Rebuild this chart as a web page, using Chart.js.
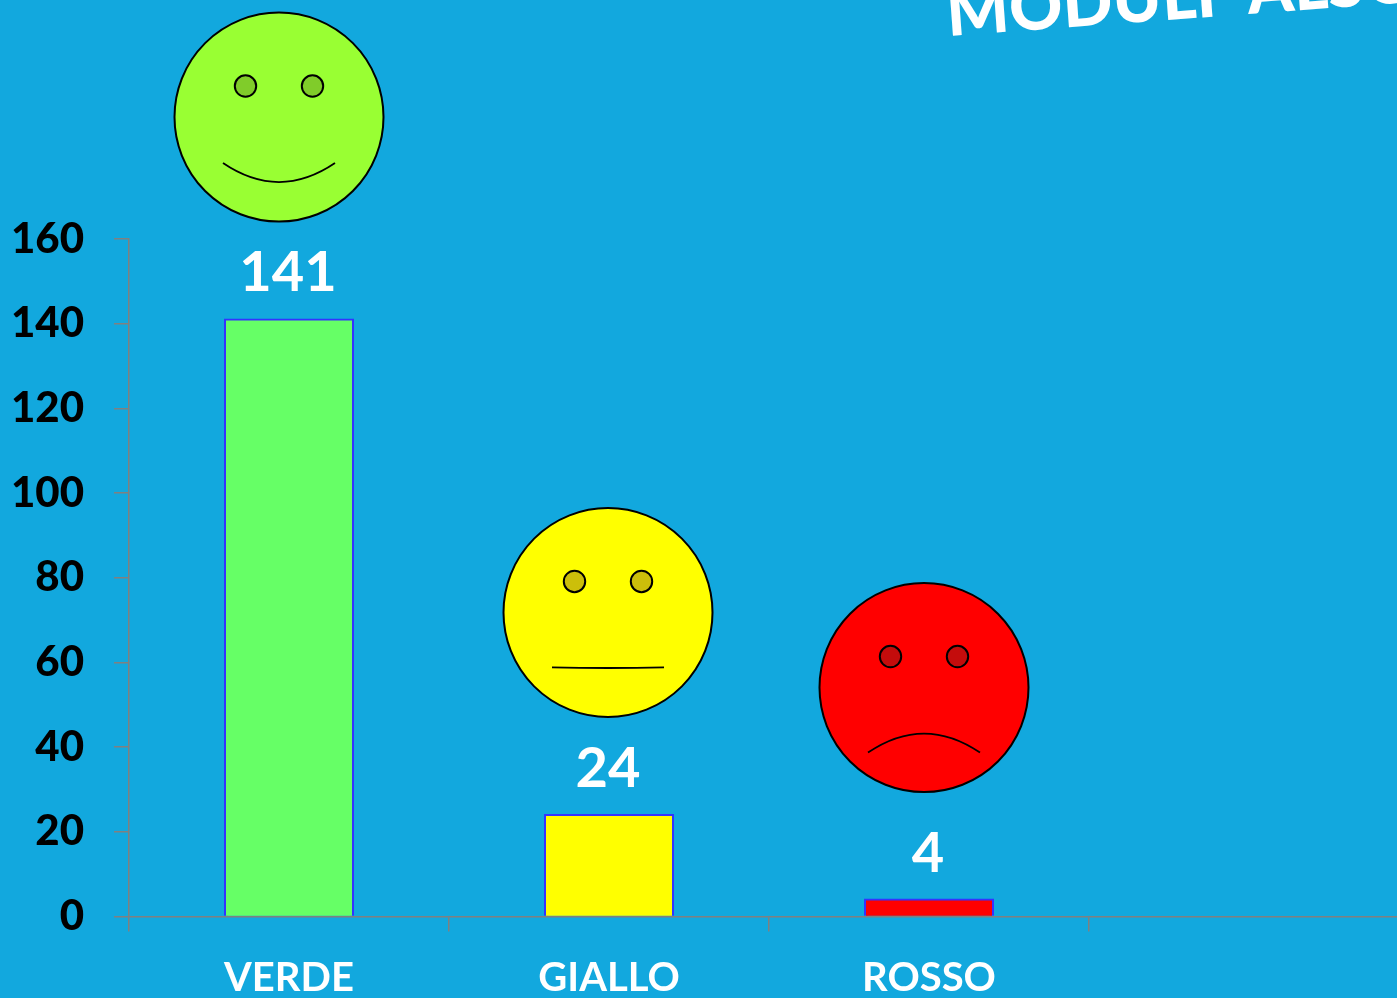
<!DOCTYPE html>
<html><head><meta charset="utf-8">
<style>html,body{margin:0;padding:0;background:#12A8DE;overflow:hidden;width:1397px;height:998px}
#w{position:absolute;left:0;top:0;width:1420px;height:998px}</style>
<script src="https://cdn.jsdelivr.net/npm/chart.js@4"></script></head>
<body><div id="w"><canvas id="c" width="1420" height="998"></canvas></div>
<script>
const categories = ['VERDE','GIALLO','ROSSO',''];
const values = [141,24,4,null];
const barColors = ['#66FF66','#FFFF00','#FF0000','#000000'];
const faceColors = ['#99FF33','#FFFF00','#FF0000'];
const eyeColors = ['#80CC2A','#CCBF0A','#C40C0C'];
const mouthBends = [38,1,-38];
const mouthDrops = [46,55,65];
const faceOffsets = [[-10,-202.4],[-1,-202.4],[-5,-212]];
const titleText = 'MODULI  ALSO';
const FONT = 'Lato, Carlito, sans-serif';

const overlay = {
  id:'overlay',
  afterDatasetsDraw(chart){
    const ctx = chart.ctx, meta = chart.getDatasetMeta(0);
    ctx.save();
    ctx.fillStyle='#fff'; ctx.textAlign='center'; ctx.textBaseline='alphabetic';
    ctx.font='bold 56px '+FONT;
    values.forEach((v,i)=>{ if(v==null) return;
      const el=meta.data[i];
      ctx.fillText(String(v), el.x-1, el.y-28);
    });
    faceOffsets.forEach((o,i)=>{
      const el=meta.data[i], cx=el.x+o[0], cy=el.y+o[1], r=104.5;
      ctx.lineWidth=2; ctx.strokeStyle='#000';
      ctx.beginPath(); ctx.arc(cx,cy,r,0,Math.PI*2); ctx.fillStyle=faceColors[i]; ctx.fill(); ctx.stroke();
      [-33.5,33.5].forEach(dx=>{
        ctx.beginPath(); ctx.arc(cx+dx,cy-31,10.7,0,Math.PI*2); ctx.fillStyle=eyeColors[i]; ctx.fill(); ctx.stroke();
      });
      const my=mouthDrops[i];
      ctx.lineWidth=1.8;
      ctx.beginPath(); ctx.moveTo(cx-56,cy+my);
      ctx.quadraticCurveTo(cx,cy+my+mouthBends[i],cx+56,cy+my); ctx.stroke();
    });
    ctx.translate(948,36); ctx.rotate(-4.2*Math.PI/180);
    ctx.fillStyle='#fff'; ctx.textAlign='left'; ctx.font='900 66px '+FONT;
    ctx.fillText(titleText,0,0);
    ctx.restore();
  }
};

new Chart(document.getElementById('c'),{
  type:'bar',
  data:{labels:categories,datasets:[{data:values,backgroundColor:barColors,borderColor:'#3333FF',borderWidth:2,inflateAmount:1,barPercentage:0.4,categoryPercentage:1}]},
  plugins:[overlay],
  options:{
    responsive:false,animation:false,
    layout:{padding:{top:239,right:11,left:0,bottom:0}},
    plugins:{legend:{display:false},tooltip:{enabled:false},title:{display:false}},
    scales:{
      x:{
        afterFit(s){s.height=81.5;},
        grid:{offset:true,drawOnChartArea:false,drawTicks:true,tickLength:15,color:'#808080',lineWidth:1.5},
        border:{color:'#808080',width:1.5},
        ticks:{color:'#fff',font:{family:FONT,size:40,weight:'bold'},padding:23,autoSkip:false,maxRotation:0}
      },
      y:{
        min:0,max:160,
        afterFit(s){s.width=129;},
        grid:{drawOnChartArea:false,tickLength:15,color:'#808080',lineWidth:1.5},
        border:{color:'#808080',width:1.5},
        ticks:{stepSize:20,color:'#000',font:{family:FONT,size:42,weight:'900'},padding:30}
      }
    }
  }
});
</script></body></html>
